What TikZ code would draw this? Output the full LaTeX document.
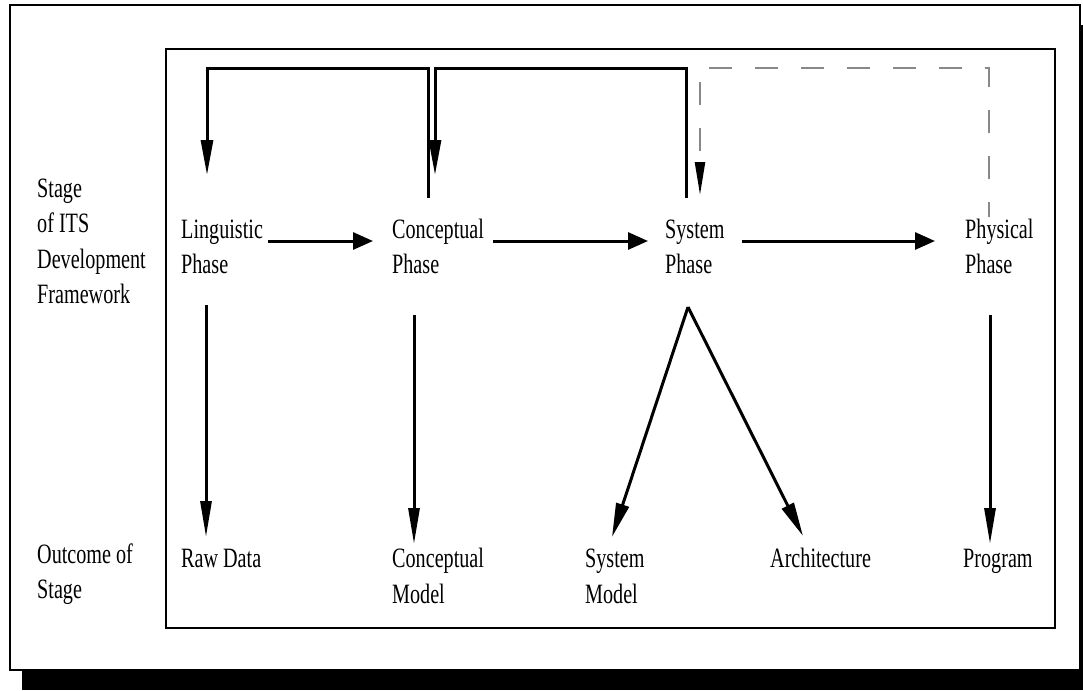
\documentclass[tikz,border=0pt]{standalone}
\usepackage{fontspec}
\setmainfont{Liberation Serif}[FakeStretch=0.72]
\usetikzlibrary{arrows.meta}

\begin{document}
\begin{tikzpicture}[x=1pt,y=-1pt,
  % multi-line labels are anchored on the baseline of their last line
  lbl/.style={anchor=base west, inner sep=0pt, align=left,
              font=\fontsize{28}{35.5}\selectfont},
  conn/.style={line width=3pt, line join=miter},
  harr/.style={conn, -{Triangle[length=20pt,width=17pt]}},
  varr/.style={conn, -{Triangle[length=36pt,width=11pt]}},
  darr/.style={conn, -{Triangle[length=34pt,width=13pt]}},
  fbarr/.style={conn, -{Triangle[length=35pt,width=12pt]}},
  dasharr/.style={line width=2.3pt, draw={rgb,255:red,136;green,136;blue,136},
                  dash pattern=on 23pt off 23pt, dash phase=8pt,
                  -{Triangle[length=33pt,width=10pt,color=black]}},
  frame/.style={draw=black, line width=2pt}]

\useasboundingbox (0,0) rectangle (1083,690);

% drop shadow and outer panel
\fill[black] (22,25) rectangle (1083,690);
\draw[frame, fill=white] (10,5) rectangle (1080,670);

% inner panel
\draw[frame, line width=2.5pt] (166,49) rectangle (1055,628);

% row captions
\node[lbl] (stagelbl) at (37,303.5) {Stage\\of ITS\\Development\\Framework};
\node[lbl] (outlbl) at (37,598.5) {Outcome of\\Stage};

% phases
\node[lbl] (ling) at (181,273.5) {Linguistic\\Phase};
\node[lbl] (conc) at (392,273.5) {Conceptual\\Phase};
\node[lbl] (sys)  at (665,273.5) {System\\Phase};
\node[lbl] (phys) at (965,273.5) {Physical\\Phase};

% outcomes
\node[lbl] (rawdata)   at (181,567) {Raw Data};
\node[lbl] (concmodel) at (392,603) {Conceptual\\Model};
\node[lbl] (sysmodel)  at (585,603) {System\\Model};
\node[lbl] (arch)      at (770,567) {Architecture};
\node[lbl] (prog)      at (963,567) {Program};

% connector end points
\coordinate (ling-out)  at (268,241);
\coordinate (conc-in)   at (373,241);
\coordinate (conc-out)  at (493,241);
\coordinate (sys-in)    at (648,241);
\coordinate (sys-out)   at (742,241);
\coordinate (phys-in)   at (935,241);

\coordinate (ling-down) at (206,305);
\coordinate (raw-in)    at (206,537);
\coordinate (conc-down) at (414,315);
\coordinate (cmod-in)   at (414,544);
\coordinate (phys-down) at (990,315);
\coordinate (prog-in)   at (990,544);
\coordinate (sys-apex)  at (688,307);
\coordinate (smod-in)   at (612,537);
\coordinate (arch-in)   at (803,536);

\coordinate (conc-up)   at (428,198);
\coordinate (ling-top)  at (207,175);
\coordinate (sys-up)    at (686,198);
\coordinate (conc-top)  at (435,175);
\coordinate (phys-up)   at (989,217);
\coordinate (sys-top)   at (700,195);

% forward flow
\draw[harr] (ling-out) -- (conc-in);
\draw[harr] (conc-out) -- (sys-in);
\draw[harr] (sys-out) -- (phys-in);

% outcomes of each phase
\draw[varr] (ling-down) -- (raw-in);
\draw[varr] (conc-down) -- (cmod-in);
\draw[varr] (phys-down) -- (prog-in);
\draw[darr] (sys-apex) -- (smod-in);
\draw[darr] (sys-apex) -- (arch-in);

% feedback loops
\draw[fbarr] (conc-up) -- (conc-up |- 0,69) -- (ling-top |- 0,69) -- (ling-top);
\draw[fbarr] (sys-up) -- (sys-up |- 0,69) -- (conc-top |- 0,69) -- (conc-top);
\draw[dasharr] (phys-up) -- (phys-up |- 0,68) -- (sys-top |- 0,68) -- (sys-top);

\end{tikzpicture}
\end{document}
